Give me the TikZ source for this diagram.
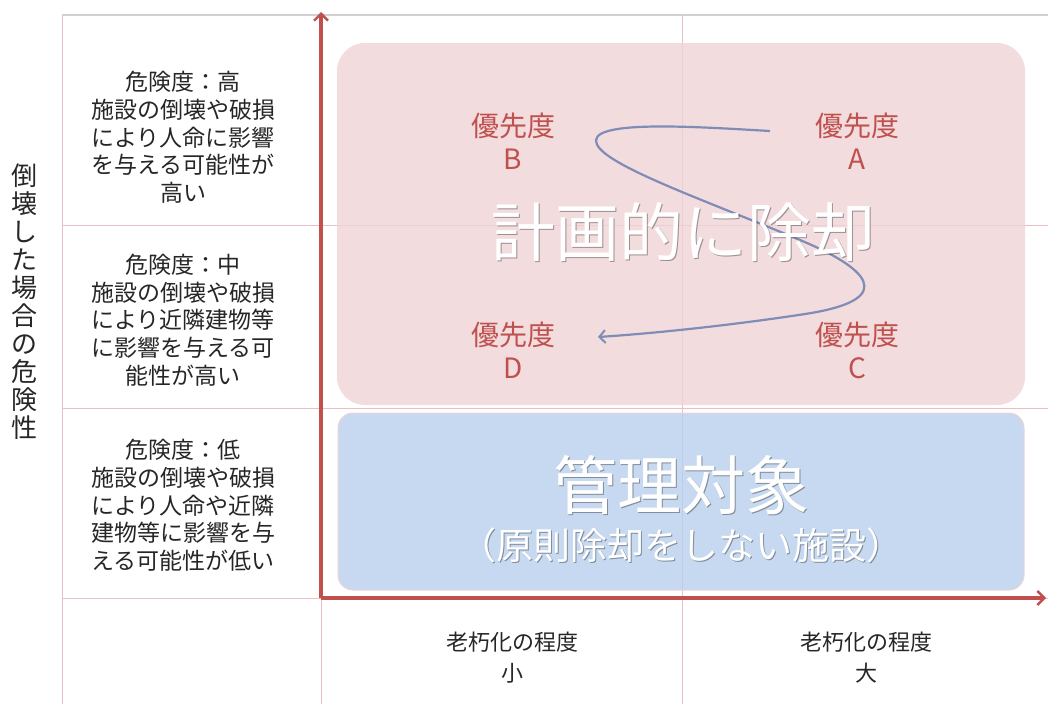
\documentclass[tikz,border=0pt]{standalone}
\usepackage{fontspec}
\setmainfont{Noto Sans CJK JP}
\usetikzlibrary{arrows.meta}
\definecolor{axisred}{HTML}{C0504D}
\definecolor{pinkfill}{HTML}{EFD3D6}
\definecolor{bluefill}{HTML}{B8CFEC}
\definecolor{gridline}{HTML}{E8BFC2}
\definecolor{curveblue}{HTML}{7F8CB6}
\definecolor{labelred}{HTML}{C0504D}
\definecolor{textgray}{HTML}{262626}
\tikzset{
  grid/.style={draw=gridline, line width=1pt},
  axis/.style={draw=axisred, line width=3.2pt, -{Straight Barb[length=7pt,width=14pt,line width=2.4pt]}},
  zonebox/.style={line width=1pt, fill opacity=0.8},
  prio/.style={text=labelred, align=center, font=\fontsize{28}{33}\selectfont},
  risk/.style={text=textgray, align=center, font=\fontsize{23}{27.7}\selectfont},
  xlab/.style={text=textgray, align=center, font=\fontsize{22}{31}\selectfont},
  bigtitle/.style={text=white, font=\fontsize{64}{70}\selectfont},
  bigshadow/.style={text=black, text opacity=0.35, font=\fontsize{64}{70}\selectfont},
  subtitle/.style={text=white, font=\fontsize{37}{42}\selectfont},
  subshadow/.style={text=black, text opacity=0.35, font=\fontsize{37}{42}\selectfont},
  flow/.style={draw=curveblue, line width=2.2pt, -{Straight Barb[length=6pt,width=13pt,line width=2pt]}}
}
\begin{document}
\begin{tikzpicture}[x=1pt,y=-1pt]
\useasboundingbox (0,0) rectangle (1048,704);
% grid
\draw[draw=black!18, line width=2pt] (62,15) -- (1048,15);
\draw[grid] (62,15) -- (62,704);
\draw[grid] (321,598) -- (321,704);
\draw[grid] (682,15) -- (682,704);
\draw[grid] (62,225) -- (1048,225);
\draw[grid] (62,408) -- (1048,408);
\draw[grid] (62,598) -- (1048,598);
% zones
\node[zonebox, fill=pinkfill, rounded corners=28pt, minimum width=688pt, minimum height=362pt, inner sep=0pt] (plan) at (681,224) {};
\node[zonebox, fill=bluefill, draw=pinkfill, rounded corners=15pt, minimum width=686pt, minimum height=177pt, inner sep=0pt] (manage) at (681,501.5) {};
% axes
\coordinate (origin) at (321,598);
\coordinate (ytip) at (321,12);
\coordinate (xtip) at (1046,598);
\draw[axis] (origin) -- (ytip);
\draw[axis] (origin) -- (xtip);
% priority labels
\node[prio] (pb) at (513,141) {優先度\\B};
\node[prio] (pa) at (857,141) {優先度\\A};
\node[prio] (pd) at (513,350) {優先度\\D};
\node[prio] (pc) at (857,350) {優先度\\C};
% flow curve
\coordinate (f0) at (770,131);
\coordinate (f1) at (598,337);
\draw[flow] (f0) .. controls (700,127) and (598,120) .. (596,140)
  .. controls (594,162) and (700,198) .. (800,240)
  .. controls (886,276) and (884,302) .. (805,314)
  .. controls (740,324) and (660,333) .. (f1);
% big titles (with soft shadow)
\node[bigshadow] (plantitleshadow) at (684.5,233.5) {計画的に除却};
\node[bigtitle] (plantitle) at (683,232) {計画的に除却};
\node[bigshadow] (managetitleshadow) at (682.5,486.5) {管理対象};
\node[bigtitle] (managetitle) at (681,485) {管理対象};
\node[subshadow] (managesubshadow) at (682.5,546.5) {（原則除却をしない施設）};
\node[subtitle] (managesub) at (681,545) {（原則除却をしない施設）};
% risk descriptions
\node[risk] (r1) at (183,137.5) {危険度：高\\施設の倒壊や破損\\により人命に影響\\を与える可能性が\\高い};
\node[risk] (r2) at (183,320) {危険度：中\\施設の倒壊や破損\\により近隣建物等\\に影響を与える可\\能性が高い};
\node[risk] (r3) at (183,505.5) {危険度：低\\施設の倒壊や破損\\により人命や近隣\\建物等に影響を与\\える可能性が低い};
% y axis title
\node[text=textgray, align=center, font=\fontsize{26}{28}\selectfont] (ytitle) at (25,302) {倒\\壊\\し\\た\\場\\合\\の\\危\\険\\性};
% x labels
\node[xlab] (xs) at (512,658) {老朽化の程度\\小};
\node[xlab] (xl) at (866,658) {老朽化の程度\\大};
\end{tikzpicture}
\end{document}
